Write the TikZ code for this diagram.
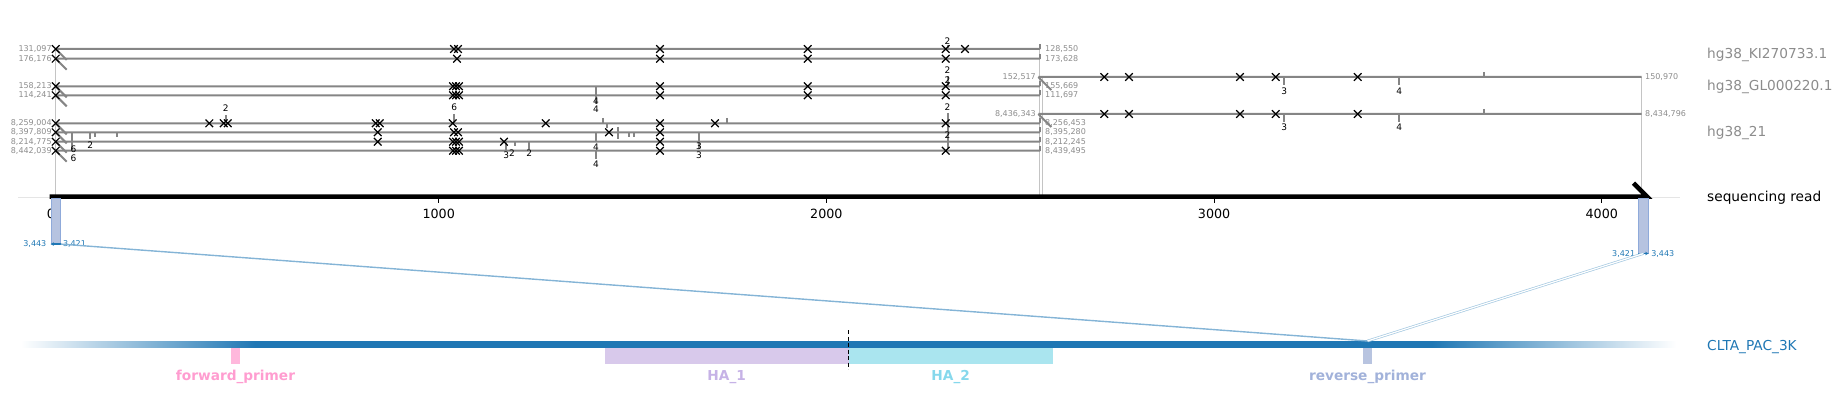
\documentclass[tikz,border=0pt]{standalone}
\usepackage{fontspec}
\setmainfont{DejaVu Sans}
\usepackage{tikz}
\usetikzlibrary{arrows.meta,positioning}
\definecolor{algray}{HTML}{858585}
\definecolor{numgray}{HTML}{8C8C8C}
\definecolor{guidegray}{HTML}{C4C4C4}
\definecolor{cltablue}{HTML}{1F77B4}
\definecolor{barfill}{HTML}{B6C3E0}
\definecolor{baredge}{HTML}{8FAADA}
\definecolor{fwdfill}{HTML}{FFB8DC}
\definecolor{fwdtext}{HTML}{FF9DD0}
\definecolor{haonefill}{HTML}{D8C9EB}
\definecolor{haonetext}{HTML}{C6B2E6}
\definecolor{hatwofill}{HTML}{AAE5EF}
\definecolor{hatwotext}{HTML}{86D8EC}
\definecolor{revfill}{HTML}{B8C4E0}
\definecolor{revtext}{HTML}{A2B2DA}

\tikzset{
  alnline/.style={algray, line width=2pt},
  guide/.style={guidegray, line width=0.9pt},
  mism/.style={black, line width=1.2pt},
  indel/.style={algray, line width=2pt},
  coordlab/.style={numgray, font=\fontsize{8}{9}\selectfont, inner sep=0pt},
  bluecoord/.style={cltablue, font=\fontsize{8}{9}\selectfont, inner sep=0pt},
  countlab/.style={black, font=\fontsize{9}{10}\selectfont, inner sep=0pt},
  reflab/.style={numgray, font=\fontsize{13.7}{16}\selectfont, anchor=base west, inner sep=0pt},
  featbox/.style={draw=none, anchor=north west, inner sep=0pt, minimum height=15.6pt},
  featlab/.style={font=\bfseries\fontsize{13.7}{16}\selectfont, inner sep=0pt},
  readbar/.style={draw=baredge, fill=barfill, line width=0.8pt, anchor=north west,
                  inner sep=0pt, minimum width=9.5pt},
  conn/.style={cltablue!55, line width=1.4pt},
}

\begin{document}
\begin{tikzpicture}[x=1pt,y=-1pt]
  \useasboundingbox (0,0) rectangle (1843,409);

  % Guide lines down to the read
  \draw[gray!20, line width=0.8pt] (18,197.5) -- (1680,197.5);
  \draw[guide] (55.5,49) -- (55.5,197);
  \draw[guide] (1039.7,49) -- (1039.7,197);
  \draw[guide] (1042.3,77) -- (1042.3,197);
  \draw[guide] (1641.7,77) -- (1641.7,197);

  % Left alignments
  \foreach \y/\s/\e [count=\i] in {49/{131,097}/{128,550}, 58.7/{176,176}/{173,628},
      86.3/{158,213}/{155,669}, 95.3/{114,241}/{111,697},
      123.3/{8,259,004}/{8,256,453}, 132.3/{8,397,809}/{8,395,280},
      141.7/{8,214,775}/{8,212,245}, 150.7/{8,442,039}/{8,439,495}} {
    \draw[alnline] (55.7,\y) -- (1040,\y) (55.7,\y) -- ++(11,11);
    \draw[indel, line width=1.5pt] (1040,\y) -- ++(0,-5);
    \node[coordlab, anchor=east] (s\i) at (51.8,\y) {\s};
    \node[coordlab, anchor=west] (e\i) at (1045,\y) {\e};
  }

  % Right alignments
  \foreach \y/\s/\e [count=\i] in {77/{152,517}/{150,970}, 114/{8,436,343}/{8,434,796}} {
    \draw[alnline] (1038.3,\y) -- (1641.7,\y) (1038.3,\y) -- ++(13,13);
    \node[coordlab, anchor=east] (rs\i) at (1036,\y) {\s};
    \node[coordlab, anchor=west] (re\i) at (1645,\y) {\e};
  }

  % Insertions and deletions
  \foreach \x/\ya/\yb in {72.3/132.3/141, 72.3/141.7/150.5, 90/132.3/139, 94.7/132.3/136.5,
      117.3/132.3/136.5, 225.7/115/123.3, 454.3/114/123.3, 596/86.3/95, 596/95.3/104,
      596/132.3/141, 596/150.7/159, 603/118/123.3, 607.3/123.3/128, 617.7/127/139,
      629.3/132.3/137, 634.3/132.3/137, 506.3/141.7/151, 515/141.7/146, 529.3/141.7/149,
      699/132.3/141, 699/141.7/149, 727.3/118/123.3, 947.5/45.5/49, 947.5/76/86.3,
      947.5/113/148, 1284.3/77/85, 1399.3/77/85, 1484.3/72/77, 1284.3/114/122,
      1399.3/114/122, 1484.3/109/114}
    \draw[indel] (\x,\ya) -- (\x,\yb);

  \foreach \x/\y/\n [count=\i] in {73.5/149/6, 73.5/158.3/6, 90.3/145/2, 225.7/107.7/2,
      454.3/107.7/6, 596/101.3/4, 596/109.7/4, 596/147.3/4, 596/164.7/4, 506.3/155.7/3,
      512/153/2, 529.3/153/2, 699/146.3/3, 699/155.3/3, 947.5/41.5/2, 947.5/70.3/2,
      947.5/79.7/2, 947.5/107.3/2, 947.5/135.3/2, 1284.3/91/3, 1399.3/91.7/4,
      1284.3/127.7/3, 1399.3/127.7/4}
    \node[countlab] (cnt\i) at (\x,\y) {\n};

  % Mismatches
  \foreach \y/\xs in {49/{55.7,454,458,660,807.7,945.7,965},
      58.7/{55.7,457,660,807.7,945.7},
      86.3/{55.7,453,456,459,660,807.7,945.7},
      95.3/{55.7,453,456,459,660,807.7,945.7},
      123.3/{55.7,209.3,223.7,227.7,375.7,379.7,452.7,545.7,660,715,945.7},
      132.3/{55.7,377.7,454,458,609,660},
      141.7/{55.7,377.7,453,456,459,504,660},
      150.7/{55.7,453,456,459,660,945.7},
      77/{1104.3,1129,1240,1275.7,1357.7},
      114/{1104.3,1129,1240,1275.7,1357.7}}
    \foreach \x in \xs
      \draw[mism] (\x-3.8,\y-3.8) -- (\x+3.8,\y+3.8) (\x-3.8,\y+3.8) -- (\x+3.8,\y-3.8);

  % Sequencing read
  \draw[line width=4.5pt, line join=miter] (49.5,196.7) -- (1647,196.7) -- ++(-13.5,-13.5);
  \foreach \v in {0,1000,2000,3000,4000} {
    \draw[line width=0.8pt] (51+0.3877*\v,199) -- ++(0,3.5);
    \node[font=\fontsize{12.7}{14}\selectfont, inner sep=0pt] (tick\v) at (51+0.3877*\v,214.3) {\v};
  }

  % Reference names
  \node[reflab] (ki) at (1707,59) {hg38\_KI270733.1};
  \node[reflab] (gl) at (1707,91) {hg38\_GL000220.1};
  \node[reflab] (chr) at (1707,136.7) {hg38\_21};
  \node[reflab, text=black] (readlab) at (1707,201.7) {sequencing read};
  \node[reflab, text=cltablue] (cltalab) at (1707,350.6) {CLTA\_PAC\_3K};

  % Read parts mapped to the donor
  \node[readbar, minimum height=45.3pt] (lbar) at (50.5,198) {};
  \node[readbar, minimum height=54.7pt] (rbar) at (1638.3,198) {};
  \draw[-{Stealth[length=3.5pt,width=3.5pt]}, cltablue, line width=1.3pt] (lbar.south east) -- (lbar.south west);
  \draw[-{Stealth[length=3.5pt,width=3.5pt]}, cltablue, line width=1.3pt] (rbar.south west) -- (rbar.south east);
  \node[bluecoord, left=4pt of lbar.south west] (lfrom) {3,443};
  \node[bluecoord, right=2pt of lbar.south east] (lto) {3,421};
  \node[bluecoord, left=3pt of rbar.south west] (rfrom) {3,421};
  \node[bluecoord, right=2.5pt of rbar.south east] (rto) {3,443};

  % Donor
  \shade[left color=white, right color=cltablue] (21,341) rectangle (255,347.7);
  \fill[cltablue] (254.5,341) rectangle (1432.5,347.7);
  \shade[left color=cltablue, right color=white] (1432,341) rectangle (1676,347.7);
  \node[featbox, fill=fwdfill, minimum width=9pt] (fwd) at (231,347.7) {};
  \node[featbox, fill=haonefill, minimum width=243.5pt] (haone) at (605,347.7) {};
  \node[featbox, fill=hatwofill, minimum width=204.5pt] (hatwo) at (848.5,347.7) {};
  \node[featbox, fill=revfill, minimum width=9pt] (rev) at (1363,347.7) {};
  \draw[dash pattern=on 4pt off 2.5pt, line width=1pt] (848.5,330) -- (848.5,369);
  \node[featlab, text=fwdtext] (fwdlab) at (235.5,376.7) {forward\_primer};
  \node[featlab, text=haonetext] (haonelab) at (726.7,376.7) {HA\_1};
  \node[featlab, text=hatwotext] (hatwolab) at (950.7,376.7) {HA\_2};
  \node[featlab, text=revtext] (revlab) at (1367.5,376.7) {reverse\_primer};

  % Connections
  \coordinate (revhit) at (1367.5,341);
  \draw[conn] (lbar.south east) -- (revhit);
  \draw[cltablue!40, line width=0.7pt, double=white, double distance=1.2pt] (rbar.south) -- (revhit);
\end{tikzpicture}
\end{document}
